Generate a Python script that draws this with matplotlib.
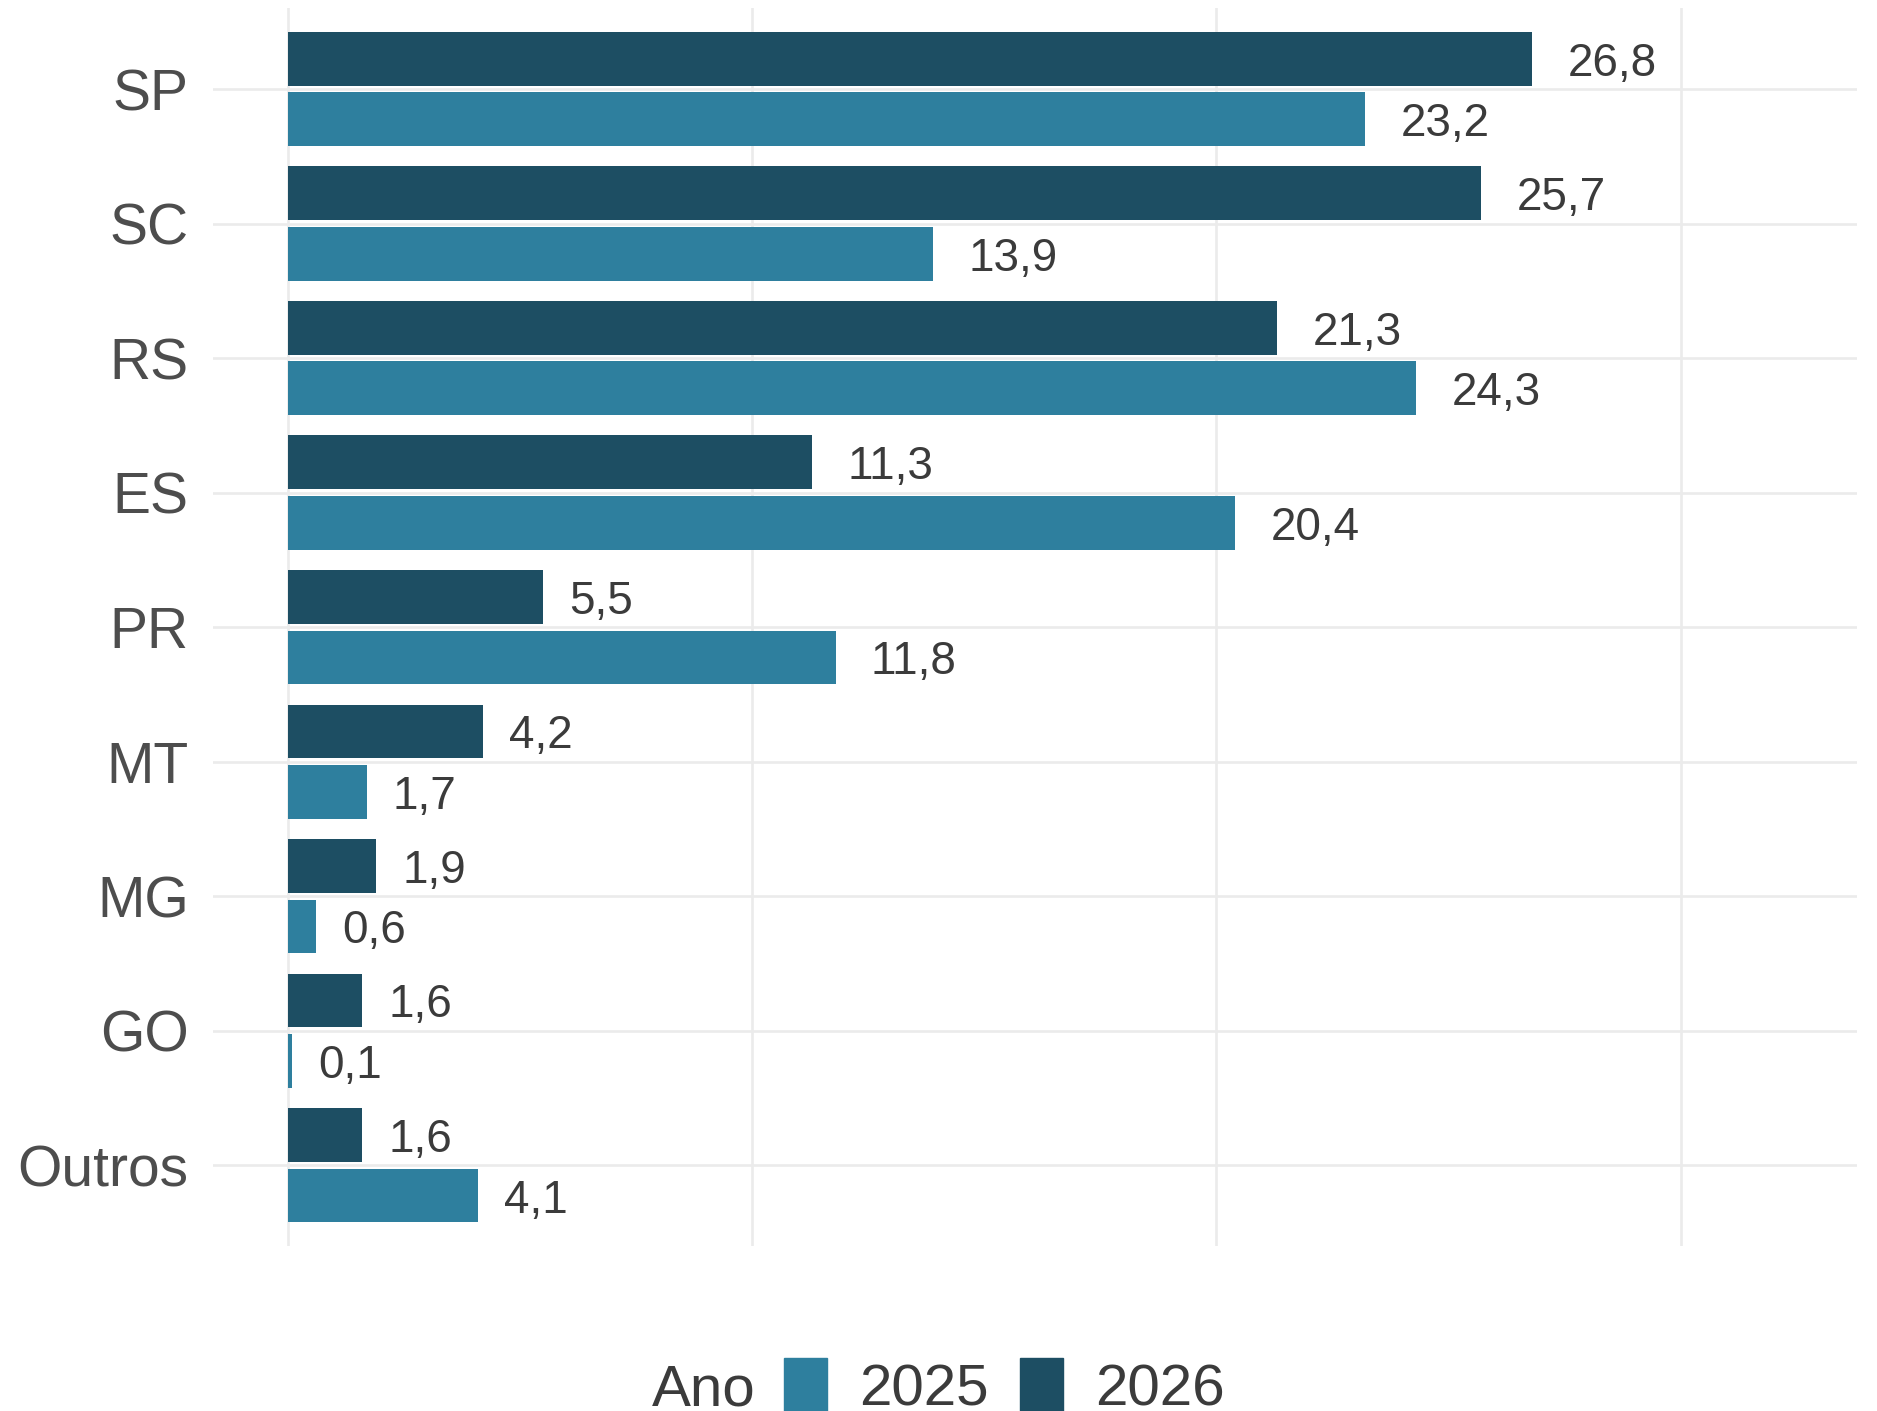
import matplotlib
matplotlib.use("Agg")
import matplotlib.pyplot as plt
from matplotlib.patches import Rectangle
import numpy as np

plt.rcParams['font.family'] = ['Liberation Sans', 'DejaVu Sans']

estados = ['SP', 'SC', 'RS', 'ES', 'PR', 'MT', 'MG', 'GO', 'Outros']
valores_2026 = [26.8, 25.7, 21.3, 11.3, 5.5, 4.2, 1.9, 1.6, 1.6]
valores_2025 = [23.2, 13.9, 24.3, 20.4, 11.8, 1.7, 0.6, 0.1, 4.1]
anos = ['2025', '2026']
cores = {'2025': '#2E7F9E', '2026': '#1D4E63'}
x_grid = [0, 10, 20, 30]

W, H = 1877, 1411
DPI = 100
fig = plt.figure(figsize=(W / DPI, H / DPI), dpi=DPI)
ax = fig.add_axes([213 / W, 1 - 1246 / H, (1857 - 213) / W, (1246 - 8.3) / H])

n = len(estados)
ypos = np.arange(n, 0, -1)  # SP on top
bar_h = 0.4
off = 0.225

ax.barh(ypos + off, valores_2026, height=bar_h, color=cores['2026'], zorder=3)
ax.barh(ypos - off, valores_2025, height=bar_h, color=cores['2025'], zorder=3)

ax.set_xlim(-1.61, 33.8)
ax.set_ylim(0.4, n + 0.6)

for s in ax.spines.values():
    s.set_visible(False)
ax.set_xticks(x_grid)
ax.set_xticklabels([])
ax.set_yticks(ypos)
ax.set_yticklabels(estados, fontsize=41, color='#4D4D4D')
ax.tick_params(axis='both', length=0)
ax.tick_params(axis='y', pad=17.5)
ax.grid(True, color='#EBEBEB', linewidth=1.9, zorder=0)
ax.set_axisbelow(True)

fmt = lambda v: f"{v:.1f}".replace('.', ',')
texts = []
for vals, dy in ((valores_2026, off), (valores_2025, -off)):
    for y, v in zip(ypos, vals):
        t = ax.annotate(fmt(v), xy=(v, y + dy), xytext=(8, 0), textcoords='offset points',
                        ha='left', va='center_baseline', fontsize=33, color='#3B3B3B', zorder=4)
        texts.append(t)

fig.canvas.draw()
r = fig.canvas.get_renderer()
for t in texts:
    w = t.get_window_extent(r).width
    off_px = 0.38 * w + 2
    t.set_position((off_px * 72 / DPI, 0))

# legend (manual, ggplot-style horizontal)
ly = 1 - 1384 / H
fig.text(652 / W, ly, 'Ano', fontsize=42, color='#3B3B3B', ha='left', va='center_baseline')
for ano, kx, tx in (('2025', 784, 859), ('2026', 1020, 1095)):
    fig.add_artist(Rectangle((kx / W, 1 - 1416 / H), 43 / W, 58 / H,
                             transform=fig.transFigure, color=cores[ano], clip_on=False))
    fig.text(tx / W, ly, ano, fontsize=42, color='#3B3B3B', ha='left', va='center_baseline')

fig.savefig('out.png', dpi=DPI, facecolor='white')
